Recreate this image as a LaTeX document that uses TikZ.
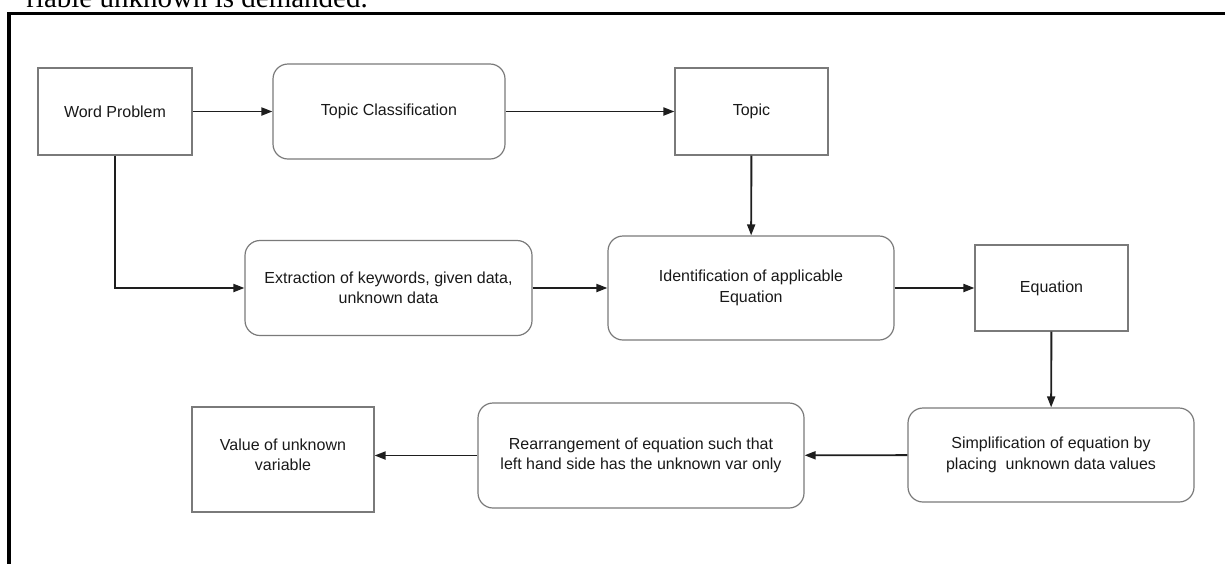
\documentclass[tikz,border=0pt]{standalone}
\usepackage{fontspec}
\setmainfont{Liberation Serif}
\newfontfamily\boxfont{Liberation Sans}
\usetikzlibrary{arrows.meta}
\definecolor{boxgray}{HTML}{7A7A7A}
\definecolor{linkgray}{HTML}{1E1E1E}

\begin{document}
\begin{tikzpicture}[x=1pt, y=-1pt,
    box/.style={draw=boxgray, line width=1.2pt, align=center, inner sep=0pt,
      font=\boxfont\fontsize{16}{20.5}\selectfont, text=black!90},
    rbox/.style={box, rounded corners=15pt},
    link/.style={draw=linkgray, line width=1.9pt, -{Triangle[length=11pt, width=8pt]}}]
    \useasboundingbox (0, 0) rectangle (1225, 563);

    % Page frame and the cut off line above it
    \node [anchor=base east, inner sep=0pt, font=\fontsize{29}{34}\selectfont] (cut) at (368, 7) {riable unknown is demanded.};
    \draw [line width=3.3pt] (9, 566) -- (9, 13.5) -- (1230, 13.5);

    % Nodes
    \node [box, minimum width=154pt, minimum height=87pt] (wp) at (115, 111.5) {Word Problem};
    \node [rbox, minimum width=232pt, minimum height=95pt] (tc) at (389, 111.5) {Topic Classification};
    \node [box, minimum width=153pt, minimum height=87pt] (topic) at (751.5, 111.5) {Topic};

    \node [rbox, minimum width=287pt, minimum height=95pt] (extract) at (388.5, 288) {Extraction of keywords, given data,\\ unknown data};
    \node [rbox, minimum width=286pt, minimum height=104pt] (ident) at (751, 288) {Identification of applicable\\ Equation};
    \node [box, minimum width=153pt, minimum height=86pt] (eqn) at (1051.5, 288) {Equation};

    \node [rbox, minimum width=286pt, minimum height=94pt] (simp) at (1051, 455) {Simplification of equation by\\ placing\ \ unknown data values};
    \node [rbox, minimum width=326pt, minimum height=105pt] (rearr) at (641, 455.5) {Rearrangement of equation such that\\ left hand side has the unknown var only};
    \node [box, minimum width=182pt, minimum height=105pt] (value) at (283, 459.5) {Value of unknown\\ variable\\[-11pt]};

    % Connections
    \draw [link] (wp) -- (tc);
    \draw [link] (tc) -- (topic);
    \draw [link] (topic) -- (ident);
    \draw [link] (wp.south) |- (extract.west);
    \draw [link] (extract.east |- ident.west) -- (ident);
    \draw [link] (ident) -- (eqn);
    \draw [link] (eqn) -- (simp);
    \draw [link] (simp) -- (rearr);
    \draw [link] (rearr.west) -- (rearr.west -| value.east);
\end{tikzpicture}
\end{document}
